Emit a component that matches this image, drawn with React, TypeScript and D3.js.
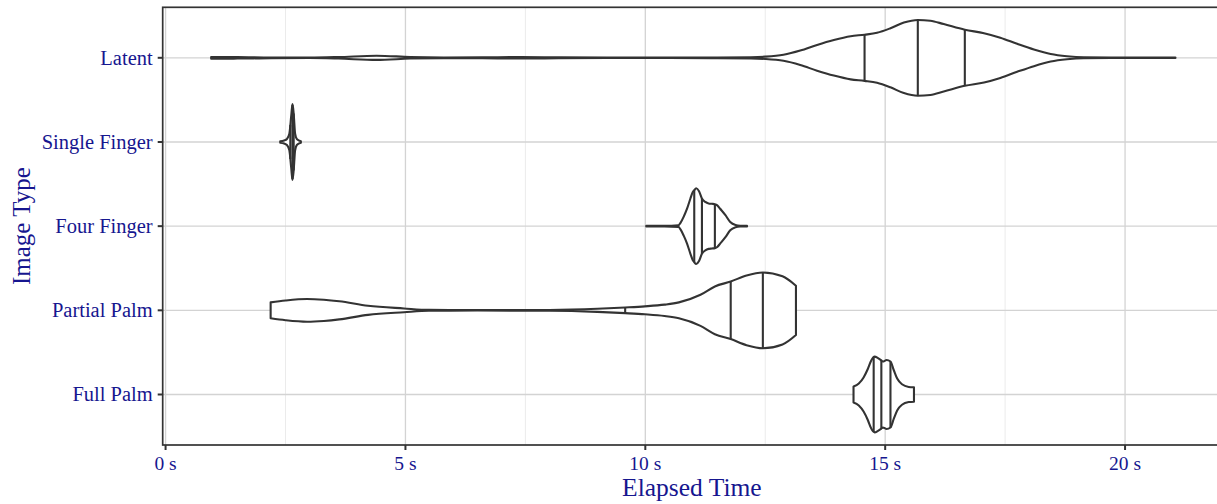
import React from "react";
import * as d3 from "d3";

const categories = ["Latent", "Single Finger", "Four Finger", "Partial Palm", "Full Palm"];
const xTicks = [0, 5, 10, 15, 20];
const xMinorTicks = [2.5, 7.5, 12.5, 17.5];
const xTickLabels = ["0 s", "5 s", "10 s", "15 s", "20 s"];

// density profiles: [seconds, relative half-width (max = 1)]
const latentProfile: [number, number][] = [
  [0.95, 0.022], [1.5, 0.02], [2.2, 0.008], [3.0, 0.006], [3.6, 0.02], [4.4, 0.055], [5.1, 0.02],
  [5.8, 0.008], [6.6, 0.012], [7.4, 0.02], [8.2, 0.012], [9.2, 0.006], [10.5, 0.006], [11.5, 0.008],
  [12.2, 0.015], [12.5, 0.03], [12.88, 0.08], [13.23, 0.19], [13.58, 0.34], [13.93, 0.47],
  [14.28, 0.57], [14.57, 0.61], [14.83, 0.66], [15.11, 0.78], [15.39, 0.93], [15.68, 1.0],
  [15.94, 0.98], [16.22, 0.89], [16.66, 0.74], [17.06, 0.65], [17.4, 0.53], [17.75, 0.37],
  [18.1, 0.22], [18.45, 0.1], [18.79, 0.04], [19.14, 0.012], [20.0, 0.006], [21.05, 0.006],
];
const singleFingerProfile: [number, number][] = [
  [2.39, 0.02], [2.47, 0.04], [2.53, 0.08], [2.58, 0.22], [2.62, 0.7], [2.645, 1.0],
  [2.67, 0.75], [2.7, 0.22], [2.74, 0.07], [2.82, 0.02],
];
const fourFingerProfile: [number, number][] = [
  [10.02, 0.006], [10.4, 0.006], [10.69, 0.02], [10.73, 0.08], [10.8, 0.25], [10.87, 0.46],
  [10.94, 0.73], [10.99, 0.9], [11.02, 0.95], [11.06, 1.0], [11.12, 0.92], [11.18, 0.73],
  [11.25, 0.64], [11.32, 0.6], [11.39, 0.59], [11.45, 0.58], [11.5, 0.55], [11.56, 0.46],
  [11.67, 0.29], [11.77, 0.11], [11.88, 0.03], [11.98, 0.01], [12.12, 0.006],
];
const partialPalmProfile: [number, number][] = [
  [2.19, 0.21], [2.5, 0.26], [2.95, 0.3], [3.3, 0.28], [3.62, 0.24], [4.22, 0.12], [4.97, 0.05],
  [5.49, 0.012], [6.5, 0.006], [8.0, 0.01], [9.0, 0.04], [9.58, 0.075], [9.99, 0.105],
  [10.4, 0.15], [10.7, 0.21], [11.15, 0.41], [11.45, 0.63], [11.78, 0.76], [12.11, 0.92],
  [12.45, 1.0], [12.86, 0.9], [13.14, 0.65],
];
const fullPalmProfile: [number, number][] = [
  [14.34, 0.21], [14.45, 0.29], [14.55, 0.45], [14.64, 0.68], [14.71, 0.9], [14.78, 1.0],
  [14.85, 0.96], [14.92, 0.9], [14.95, 0.87], [15.03, 0.91], [15.11, 0.87], [15.18, 0.64],
  [15.25, 0.42], [15.35, 0.27], [15.49, 0.2], [15.6, 0.19],
];

// quartile lines: [seconds, relative half-width]
const latentQuantiles: [number, number][] = [[14.57, 0.61], [15.68, 1.0], [16.66, 0.74]];
const singleFingerQuantiles: [number, number][] = [[2.6, 0.45], [2.645, 0.98], [2.67, 0.75]];
const fourFingerQuantiles: [number, number][] = [[11.02, 0.95], [11.18, 0.73], [11.45, 0.58]];
const partialPalmQuantiles: [number, number][] = [[9.58, 0.075], [11.78, 0.76], [12.45, 1.0]];
const fullPalmQuantiles: [number, number][] = [[14.76, 0.99], [14.92, 0.9], [15.11, 0.87]];

const profiles = [latentProfile, singleFingerProfile, fourFingerProfile, partialPalmProfile, fullPalmProfile];
const quantiles = [latentQuantiles, singleFingerQuantiles, fourFingerQuantiles, partialPalmQuantiles, fullPalmQuantiles];

const W = 1217;
const H = 504;
const panel = { left: 162.7, right: 1221, top: 7.3, bottom: 445 };
const FONT = "'Liberation Serif', 'Times New Roman', serif";
const TEXT = "#16168f";
const INK = "#333333";

export default function App() {
  const x = d3.scaleLinear().domain([-0.06, 22.0]).range([panel.left, panel.right]);
  const y = d3.scalePoint<string>().domain(categories).range([panel.top, panel.bottom]).padding(0.6);
  const halfMax = y.step() * 0.45;

  return (
    <svg width={W} height={H} style={{ position: "absolute", left: 0, top: 0, background: "#fff" }}>
      <rect x={0} y={0} width={W} height={H} fill="#fff" />
      {/* grid */}
      {xMinorTicks.map((t) => (
        <line key={"mn" + t} x1={x(t)} x2={x(t)} y1={panel.top} y2={panel.bottom} stroke="#ebebeb" strokeWidth={1} />
      ))}
      {xTicks.map((t) => (
        <line key={"mj" + t} x1={x(t)} x2={x(t)} y1={panel.top} y2={panel.bottom} stroke="#d3d3d3" strokeWidth={1.3} />
      ))}
      {categories.map((c) => (
        <line key={"hg" + c} x1={panel.left} x2={panel.right} y1={y(c)} y2={y(c)} stroke="#d3d3d3" strokeWidth={1.3} />
      ))}
      {/* violins */}
      {categories.map((c, i) => {
        const cy = y(c) as number;
        const area = d3
          .area<[number, number]>()
          .x((d) => x(d[0]))
          .y0((d) => cy + d[1] * halfMax)
          .y1((d) => cy - d[1] * halfMax)
          .curve(d3.curveMonotoneX);
        return (
          <g key={"v" + c}>
            <path d={area(profiles[i]) || ""} fill="#fff" stroke={INK} strokeWidth={2.1} strokeLinejoin="round" />
            {quantiles[i].map((q, j) => (
              <line
                key={j}
                x1={x(q[0])}
                x2={x(q[0])}
                y1={cy - q[1] * halfMax}
                y2={cy + q[1] * halfMax}
                stroke={INK}
                strokeWidth={2.1}
              />
            ))}
          </g>
        );
      })}
      {/* panel border */}
      <rect
        x={panel.left}
        y={panel.top}
        width={panel.right - panel.left}
        height={panel.bottom - panel.top}
        fill="none"
        stroke={INK}
        strokeWidth={1.7}
      />
      {/* y axis */}
      {categories.map((c) => (
        <g key={"yt" + c}>
          <line x1={panel.left - 5} x2={panel.left} y1={y(c)} y2={y(c)} stroke={INK} strokeWidth={2} />
          <text
            x={panel.left - 10}
            y={(y(c) as number) + 6.8}
            textAnchor="end"
            fontFamily={FONT}
            fontSize={20.5}
            fill={TEXT}
          >
            {c}
          </text>
        </g>
      ))}
      {/* x axis */}
      {xTicks.map((t, i) => (
        <g key={"xt" + t}>
          <line x1={x(t)} x2={x(t)} y1={panel.bottom} y2={panel.bottom + 5} stroke={INK} strokeWidth={2} />
          <text x={x(t)} y={470} textAnchor="middle" fontFamily={FONT} fontSize={19.5} fill={TEXT}>
            {xTickLabels[i]}
          </text>
        </g>
      ))}
      <text
        x={(panel.left + panel.right) / 2}
        y={496}
        textAnchor="middle"
        fontFamily={FONT}
        fontSize={25.5}
        fill={TEXT}
      >
        Elapsed Time
      </text>
      <text
        transform={`translate(30, ${(panel.top + panel.bottom) / 2}) rotate(-90)`}
        textAnchor="middle"
        fontFamily={FONT}
        fontSize={25}
        fill={TEXT}
      >
        Image Type
      </text>
    </svg>
  );
}
